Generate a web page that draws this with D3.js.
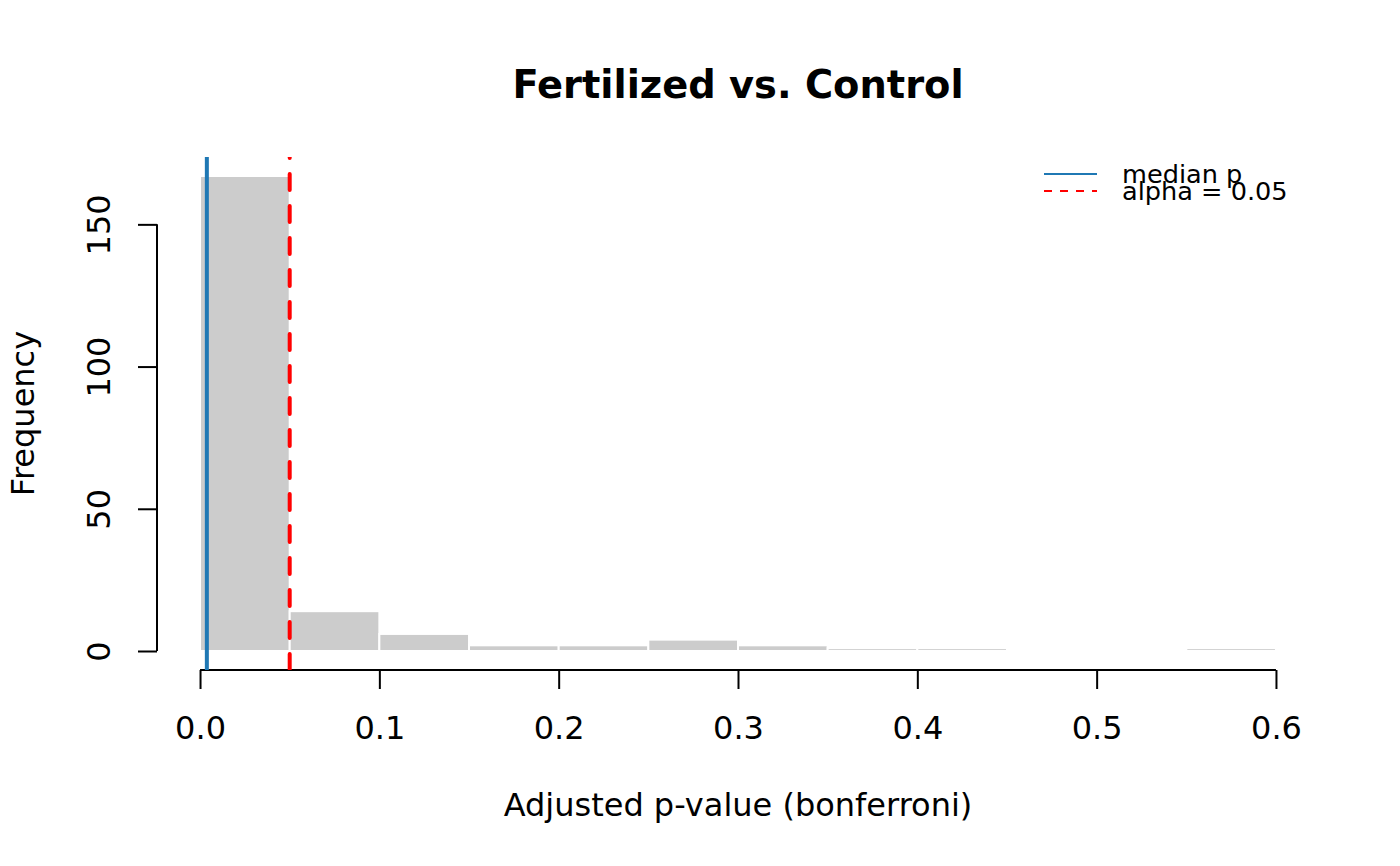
<!DOCTYPE html>
<html>
<head>
<meta charset="utf-8">
<script src="https://cdn.jsdelivr.net/npm/d3@7"></script>
<style>
  body { margin: 0; background: #fff; }
  text { font-family: "DejaVu Sans", sans-serif; fill: #000; }
</style>
</head>
<body>
<div id="chart"></div>
<script>
// histogram bins (adjusted p-values) and their counts
var binStarts = [0, 0.05, 0.1, 0.15, 0.2, 0.25, 0.3, 0.35, 0.4, 0.45, 0.5, 0.55];
var binWidth = 0.05;
var counts = [167, 14, 6, 2, 2, 4, 2, 1, 1, 0, 0, 1];
var xTicks = [0, 0.1, 0.2, 0.3, 0.4, 0.5, 0.6];
var yTicks = [0, 50, 100, 150];
var medianP = 0.0038;
var alpha = 0.05;
var legendLabels = ["median p", "alpha = 0.05"];

var width = 1400, height = 866;
var plot = { left: 157, right: 1319, top: 157, bottom: 670 };
var baseFont = 32;

var bins = binStarts.map(function(s, i) { return { x0: s, x1: s + binWidth, n: counts[i] }; });

// R style 4% axis extension
var xMin = 0, xMax = 0.6;
var yMax = d3.max(counts);
var x = d3.scaleLinear()
    .domain([xMin - 0.04 * (xMax - xMin), xMax + 0.04 * (xMax - xMin)])
    .range([plot.left, plot.right]);
var y = d3.scaleLinear()
    .domain([-0.04 * yMax, yMax * 1.04])
    .range([plot.bottom, plot.top]);

var svg = d3.select("#chart").append("svg")
    .attr("width", width)
    .attr("height", height);

svg.append("defs").append("clipPath")
    .attr("id", "plotclip")
  .append("rect")
    .attr("x", plot.left)
    .attr("y", plot.top)
    .attr("width", plot.right - plot.left)
    .attr("height", plot.bottom - plot.top);

// title
svg.append("text")
    .attr("x", (plot.left + plot.right) / 2)
    .attr("y", 98)
    .attr("text-anchor", "middle")
    .attr("font-weight", "bold")
    .attr("font-size", baseFont * 1.2)
    .text("Fertilized vs. Control");

// bars
svg.selectAll("rect.bar")
    .data(bins.filter(function(d) { return d.n > 0; }))
    .enter()
    .append("rect")
      .attr("class", "bar")
      .attr("x", function(d) { return x(d.x0); })
      .attr("width", function(d) { return x(d.x1) - x(d.x0); })
      .attr("y", function(d) { return y(d.n); })
      .attr("height", function(d) { return y(0) - y(d.n); })
      .attr("fill", "#cccccc")
      .attr("stroke", "#ffffff")
      .attr("stroke-width", 2);

// x axis
var xAxis = svg.append("g")
    .attr("transform", "translate(0," + plot.bottom + ")")
    .call(d3.axisBottom(x).tickValues(xTicks).tickFormat(d3.format(".1f")).tickSize(19).tickSizeOuter(0));
xAxis.select(".domain").remove();
xAxis.append("line")
    .attr("x1", x(xTicks[0]))
    .attr("x2", x(xTicks[xTicks.length - 1]))
    .attr("stroke", "#000")
    .attr("stroke-width", 2);
xAxis.selectAll(".tick line").attr("stroke", "#000").attr("stroke-width", 2);
xAxis.selectAll(".tick text")
    .attr("y", 69)
    .attr("dy", null)
    .attr("font-size", baseFont)
    .attr("font-family", "DejaVu Sans")
    .attr("fill", "#000");

// y axis
var yAxis = svg.append("g")
    .attr("transform", "translate(" + plot.left + ",0)")
    .call(d3.axisLeft(y).tickValues(yTicks).tickSize(19).tickSizeOuter(0));
yAxis.select(".domain").remove();
yAxis.append("line")
    .attr("y1", y(yTicks[0]))
    .attr("y2", y(yTicks[yTicks.length - 1]))
    .attr("stroke", "#000")
    .attr("stroke-width", 2);
yAxis.selectAll(".tick line").attr("stroke", "#000").attr("stroke-width", 2);
yAxis.selectAll(".tick text")
    .attr("x", null)
    .attr("dy", null)
    .attr("transform", "translate(-47,0) rotate(-90)")
    .attr("text-anchor", "middle")
    .attr("font-size", baseFont)
    .attr("font-family", "DejaVu Sans")
    .attr("fill", "#000");

// axis titles
svg.append("text")
    .attr("x", (plot.left + plot.right) / 2)
    .attr("y", 816)
    .attr("text-anchor", "middle")
    .attr("font-size", baseFont)
    .text("Adjusted p-value (bonferroni)");

svg.append("text")
    .attr("transform", "translate(34," + ((plot.top + plot.bottom) / 2) + ") rotate(-90)")
    .attr("text-anchor", "middle")
    .attr("font-size", baseFont)
    .text("Frequency");

// reference lines (abline v=), drawn bottom to top like R
var refs = svg.append("g").attr("clip-path", "url(#plotclip)");
refs.append("line")
    .attr("x1", x(medianP)).attr("x2", x(medianP))
    .attr("y1", plot.bottom).attr("y2", plot.top)
    .attr("stroke", "#1f78b4")
    .attr("stroke-width", 4);
refs.append("line")
    .attr("x1", x(alpha)).attr("x2", x(alpha))
    .attr("y1", plot.bottom).attr("y2", plot.top)
    .attr("stroke", "#ff0000")
    .attr("stroke-width", 4)
    .attr("stroke-linecap", "round")
    .attr("stroke-dasharray", "16,16");

// legend
var legend = svg.append("g").attr("transform", "translate(1044,174)");
var legendRow = 17;
legend.selectAll("line")
    .data(legendLabels)
    .enter()
    .append("line")
      .attr("x1", 0).attr("x2", 53)
      .attr("y1", function(d, i) { return i * legendRow; })
      .attr("y2", function(d, i) { return i * legendRow; })
      .attr("stroke", function(d, i) { return i === 0 ? "#1f78b4" : "#ff0000"; })
      .attr("stroke-width", 2)
      .attr("stroke-dasharray", function(d, i) { return i === 0 ? null : "8,8"; });
legend.selectAll("text")
    .data(legendLabels)
    .enter()
    .append("text")
      .attr("x", 78)
      .attr("y", function(d, i) { return i * legendRow + 9; })
      .attr("font-size", baseFont * 0.8)
      .text(function(d) { return d; });
</script>
</body>
</html>
